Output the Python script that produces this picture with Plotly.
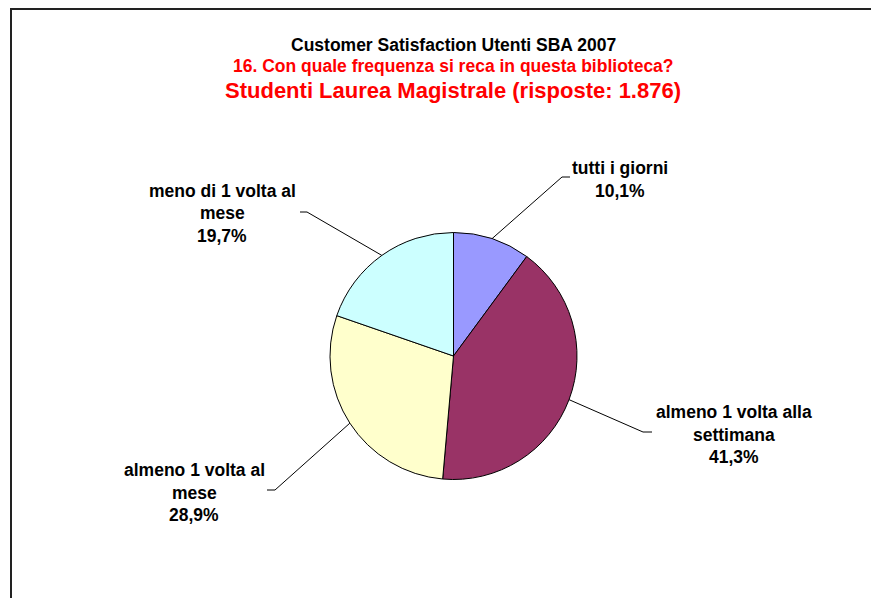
import math
import plotly.graph_objects as go

categories = ["tutti i giorni", "almeno 1 volta alla settimana", "almeno 1 volta al mese", "meno di 1 volta al mese"]
values = [10.1, 41.3, 28.9, 19.7]
colors = ["#9999FF", "#993366", "#FFFFCC", "#CCFFFF"]
label_lines = [
    ["tutti i giorni", "10,1%"],
    ["almeno 1 volta alla", "settimana", "41,3%"],
    ["almeno 1 volta al", "mese", "28,9%"],
    ["meno di 1 volta al", "mese", "19,7%"],
]

W, H = 879, 598
OFF = 8  # page body margin
cx, cy, R = 453.5, 356.0, 123.5

def px(x):
    return (x - OFF) / W

def py(y):
    return 1 - (y - OFF) / H

fig = go.Figure(go.Pie(
    labels=categories, values=values, sort=False, direction="clockwise", rotation=0,
    marker=dict(colors=colors, line=dict(color="black", width=1)),
    textinfo="none", hoverinfo="label+percent", showlegend=False,
    domain=dict(x=[px(cx - R), px(cx + R)], y=[py(cy + R), py(cy - R)]),
))

# label block first-line centers (pixels) and leader line elbows
label_pos = [(620, 168), (734, 412), (194, 470), (222, 191)]
elbows = [((562, 177), (570, 177)), ((643, 432), (652, 432)),
          ((275, 490), (267, 490)), ((307, 212), (300, 212))]

shapes = []
annotations = []
total = sum(values)
cum = 0
for i, v in enumerate(values):
    mid = (cum + v / 2) / total * 2 * math.pi
    cum += v
    sx = cx + R * math.sin(mid)
    sy = cy - R * math.cos(mid)
    (ex, ey), (hx, hy) = elbows[i]
    shapes.append(dict(type="path", xref="paper", yref="paper",
                       path=f"M {px(sx)} {py(sy)} L {px(ex)} {py(ey)} L {px(hx)} {py(hy)}",
                       line=dict(color="black", width=1)))
    lx, ly = label_pos[i]
    for j, t in enumerate(label_lines[i]):
        annotations.append(dict(text=f"<b>{t}</b>", x=px(lx), y=py(ly + 22.5 * j),
                                xref="paper", yref="paper", showarrow=False,
                                xanchor="center", yanchor="middle",
                                font=dict(family="Liberation Sans, Arial", size=17.5, color="black")))

# titles
titles = [("Customer Satisfaction Utenti SBA 2007", 453, 45, 17.5, "black"),
          ("16. Con quale frequenza si reca in questa biblioteca?", 453.5, 66, 17.5, "#FF0000"),
          ("Studenti Laurea Magistrale (risposte: 1.876)", 453, 90, 22, "#FF0000")]
for t, x, y, s, c in titles:
    annotations.append(dict(text=f"<b>{t}</b>", x=px(x), y=py(y), xref="paper", yref="paper",
                            showarrow=False, xanchor="center", yanchor="middle",
                            font=dict(family="Liberation Sans, Arial", size=s, color=c)))

# chart frame (cut off at right and bottom)
shapes.append(dict(type="line", xref="paper", yref="paper", x0=px(11), x1=px(W + 20), y0=py(9), y1=py(9),
                   line=dict(color="#222222", width=2)))
shapes.append(dict(type="line", xref="paper", yref="paper", x0=px(11), x1=px(11), y0=py(8), y1=py(H + 20),
                   line=dict(color="#222222", width=2)))

fig.update_layout(width=W, height=H, margin=dict(l=0, r=0, t=0, b=0),
                  paper_bgcolor="white", plot_bgcolor="white",
                  shapes=shapes, annotations=annotations)
fig.write_html("out.html")
